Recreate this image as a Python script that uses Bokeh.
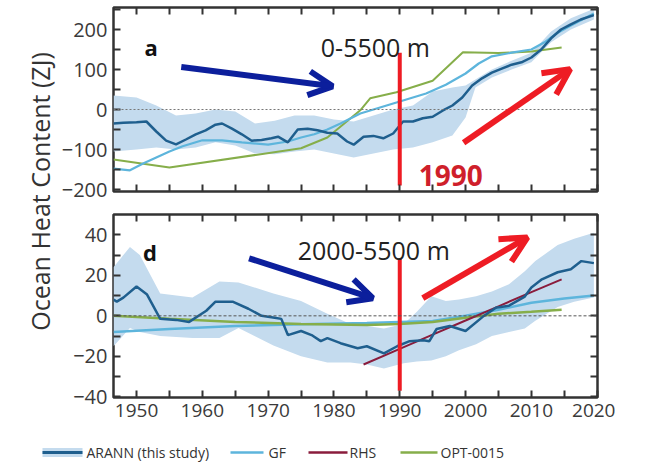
import math
from bokeh.plotting import figure
from bokeh.layouts import column, row
from bokeh.models import (Range1d, LinearAxis, FixedTicker, Arrow, OpenHead, Span, Label,
                          CustomJSTickFormatter)
from bokeh.embed import file_html
from bokeh.resources import INLINE
from bokeh.core.properties import value

# ---------------- data: panel a (0-5500 m) ----------------
aran_a_years = [1946.5, 1948, 1950, 1951.5, 1953, 1954.5, 1956, 1957.5, 1959, 1960.5,
                1962, 1963, 1964.5, 1966, 1967.5, 1969, 1970.5, 1971.5, 1973, 1974.5,
                1976, 1977.5, 1979, 1980.5, 1982, 1983, 1984.5, 1986, 1987.5, 1989,
                1990.5, 1992, 1993.5, 1995, 1996.5, 1998, 1999.5, 2001, 2002.5, 2004,
                2005.5, 2007, 2008.5, 2010, 2011.5, 2013, 2014.5, 2016, 2017.5, 2019.5]
aran_a_vals = [-35, -33, -32, -30, -55, -78, -87, -75, -62, -52,
               -38, -35, -48, -62, -78, -76, -72, -68, -82, -50,
               -48, -52, -58, -60, -80, -88, -68, -66, -72, -60,
               -30, -30, -22, -18, -3, 10, 30, 60, 78, 92,
               102, 112, 118, 130, 150, 178, 200, 213, 225, 236]

band_a_years = [1946.5, 1950, 1953, 1956, 1959, 1962, 1965, 1968, 1971, 1974, 1977,
                1980, 1983, 1986, 1989, 1992, 1995, 1998, 2000, 2001.5, 2004, 2007,
                2010, 2013, 2016, 2019.5]
band_a_lower = [-105, -100, -95, -100, -95, -82, -90, -110, -112, -105, -100,
                -110, -120, -110, -100, -95, -82, -65, -20, 55, 80, 100,
                118, 168, 200, 225]
band_a_upper = [35, 30, 10, -15, -10, 0, -5, -35, -28, -15, -15,
                -25, -30, -15, 0, 10, 45, 55, 60, 75, 100, 122,
                142, 195, 228, 252]

gf_a_years = [1946.5, 1949, 1951, 1953, 1955, 1957, 1960, 1963, 1966, 1970, 1973, 1975,
              1977, 1979, 1981, 1984, 1987, 1990, 1994, 1997, 2000, 2002, 2004, 2007,
              2010, 2012, 2014, 2016, 2019.5]
gf_a_vals = [-148, -152, -135, -120, -105, -92, -77, -77, -82, -88, -80, -70,
             -62, -50, -35, -10, 5, 20, 40, 62, 90, 115, 133, 142,
             150, 168, 192, 210, 240]

opt_a_years = [1946.5, 1955, 1975, 1979, 1984, 1985.5, 1989.5, 1995, 1999.6, 2005, 2010, 2014.6]
opt_a_vals = [-125, -145, -97, -70, -2, 28, 43, 72, 143, 141, 145, 155]

# ---------------- data: panel d (2000-5500 m) ----------------
aran_d_years = [1946.5, 1947, 1948, 1950, 1951.6, 1953.6, 1956, 1958, 1960.6, 1962,
                1964.6, 1967, 1969, 1971, 1972, 1973, 1975, 1976.6, 1978, 1979,
                1981, 1983.6, 1985, 1987.6, 1989.6, 1991.5, 1993.6, 1994.5, 1995.6, 1997.6,
                2000, 2002.6, 2004.6, 2006.6, 2009, 2010, 2011.6, 2014, 2016, 2017.6, 2019.5]
aran_d_vals = [8, 7, 9, 14.5, 10.5, -1.5, -2, -3, 2.5, 7,
               7, 3.5, 0, -1, -1.5, -9.5, -7.5, -9.5, -12.5, -11,
               -13.5, -16, -15, -18.5, -15, -12.5, -12, -12.5, -6.5, -5,
               -7.5, -0.5, 4, 5, 9.5, 14, 18, 21.5, 23, 27, 26]

band_d_years = [1946.5, 1949, 1950.5, 1953.6, 1958.5, 1962.6, 1965.5, 1970.8, 1975, 1979,
                1982.5, 1985, 1987.6, 1990.6, 1992.6, 1994.8, 1997, 1999, 2001.6, 2004,
                2006.6, 2009, 2010.6, 2014, 2016.5, 2019.5]
band_d_upper = [24, 34, 30, 11, 9, 17, 16.5, 11, 7.3, 1,
                -4, -5, -6.3, -4, 2, 9.7, 7.3, 8, 9.7, 12,
                15.6, 22, 27, 35, 38, 41]
band_d_lower = [-15, -6, -8, -10, -11, -11, -6, -14.6, -20, -23,
                -23, -24, -26, -23.4, -22.5, -22, -20, -17, -14, -10,
                -8, -6.3, -2.4, 4.4, 7, 9]

gf_d_years = [1946.5, 1955, 1965, 1975, 1985, 1995, 2000, 2005, 2010, 2015, 2019.5]
gf_d_vals = [-8, -6.5, -5, -4.2, -3.5, -2.5, 0, 3, 6.5, 8.5, 10]

opt_d_years = [1946.5, 1955, 1965, 1975, 1985, 1990, 1995, 2000, 2005, 2010, 2014.6]
opt_d_vals = [0, -1.5, -3, -4, -4.5, -4, -3, -1, 1, 2, 3]

rhs_d_years = [1984.5, 1990, 1995, 2000, 2005, 2010, 2014.6]
rhs_d_vals = [-24, -16.3, -9.3, -2.3, 4.7, 11.7, 18]

x_major = [1950, 1960, 1970, 1980, 1990, 2000, 2010, 2020]
x_minor = [1955, 1965, 1975, 1985, 1995, 2005, 2015]
ya_major = [-200, -100, 0, 100, 200]
ya_minor = [-150, -50, 50, 150, 250]
yd_major = [-40, -20, 0, 20, 40]
yd_minor = [-30, -10, 10, 30]

legend_labels = ["ARANN (this study)", "GF", "RHS", "OPT-0015"]
y_label = "Ocean Heat Content (ZJ)"

# ---------------- styles ----------------
C_ARAN = "#1f5f8e"
C_BAND = "#c4dbee"
C_GF = "#5db5dc"
C_RHS = "#8a1c3c"
C_OPT = "#86ae4a"
C_RED = "#ee1c24"
C_RED_TXT = "#cf1f2b"
C_BLUE = "#0c1f9c"
C_FRAME = "#333333"
FONT = "Open Sans"

LABEL_W = 58          # width of the y-label strip
PANEL_W = 615 - LABEL_W
PANEL_BL = 112 - LABEL_W


def style_axis(ax, ticker, labels, size="20px"):
    ax.ticker = ticker
    ax.major_tick_in = 7
    ax.major_tick_out = 0
    ax.minor_tick_in = 7
    ax.minor_tick_out = 0
    ax.major_tick_line_color = C_FRAME
    ax.minor_tick_line_color = C_FRAME
    ax.major_tick_line_width = 2
    ax.minor_tick_line_width = 2
    ax.axis_line_color = None
    ax.major_label_text_font = FONT
    ax.major_label_text_color = "#3a3a3a"
    if labels:
        ax.major_label_text_font_size = size
        ax.major_label_standoff = 6
    else:
        ax.formatter = CustomJSTickFormatter(code="return '';")
        ax.major_label_text_font_size = "1px"
        ax.major_label_standoff = 0


def make_panel(height, yr, ymaj, ymin, bt, bb, xlabels):
    p = figure(width=PANEL_W, height=height, x_range=Range1d(1946.5, 2020.05), y_range=yr,
               output_backend="svg", toolbar_location=None,
               min_border_left=PANEL_BL, min_border_right=18, min_border_top=bt,
               min_border_bottom=bb)
    p.xgrid.visible = False
    p.ygrid.visible = False
    p.outline_line_color = C_FRAME
    p.outline_line_width = 2.5
    p.background_fill_color = "white"
    p.border_fill_color = "white"
    xt = FixedTicker(ticks=x_major, minor_ticks=x_minor)
    yt = FixedTicker(ticks=ymaj, minor_ticks=ymin)
    style_axis(p.xaxis[0], xt, xlabels, "19px")
    style_axis(p.yaxis[0], yt, True, "20px")
    top = LinearAxis()
    style_axis(top, FixedTicker(ticks=x_major, minor_ticks=x_minor), False)
    p.add_layout(top, "above")
    right = LinearAxis()
    style_axis(right, FixedTicker(ticks=ymaj, minor_ticks=ymin), False)
    p.add_layout(right, "right")
    return p


# ---------------- panel a ----------------
pa = make_panel(201, Range1d(-205, 255), ya_major, ya_minor, 7, 10, False)
pa.varea(x=band_a_years, y1=band_a_lower, y2=band_a_upper, fill_color=C_BAND)
pa.add_layout(Span(location=0, dimension="width", line_color="#777777",
                   line_width=1, line_dash="2 2"))
pa.line(opt_a_years, opt_a_vals, line_color=C_OPT, line_width=2)
pa.line(gf_a_years, gf_a_vals, line_color=C_GF, line_width=2.2)
pa.line(aran_a_years, aran_a_vals, line_color=C_ARAN, line_width=2.5)
pa.segment(x0=[1990], y0=[-190], x1=[1990], y1=[142], line_color=C_RED, line_width=4)
pa.add_layout(Arrow(end=OpenHead(size=24, line_width=6, line_color=C_BLUE),
                    x_start=1956.8, y_start=106, x_end=1979.8, y_end=58,
                    line_color=C_BLUE, line_width=6))
pa.add_layout(Arrow(end=OpenHead(size=26, line_width=6, line_color=C_RED),
                    x_start=1999.7, y_start=-83, x_end=2015.9, y_end=101,
                    line_color=C_RED, line_width=6))
pa.add_layout(Label(x=1951.2, y=157, text="a", text_font=FONT, text_font_style="bold",
                    text_font_size="22px", text_color="#111111", text_baseline="alphabetic"))
pa.add_layout(Label(x=1978.0, y=157, text="0-5500 m", text_font=FONT,
                    text_font_size="25px", text_color="#222222", text_baseline="alphabetic"))
pa.add_layout(Label(x=1992.9, y=-165, text="1990", text_font=FONT, text_font_style="bold",
                    text_font_size="28px", text_color=C_RED_TXT, text_baseline="alphabetic"))

# ---------------- panel d ----------------
pd_ = make_panel(237, Range1d(-40.3, 50), yd_major, yd_minor, 13, 41, True)
pd_.varea(x=band_d_years, y1=band_d_lower, y2=band_d_upper, fill_color=C_BAND)
pd_.add_layout(Span(location=0, dimension="width", line_color="#555555",
                    line_width=1, line_dash="3 2"))
pd_.line(gf_d_years, gf_d_vals, line_color=C_GF, line_width=2.5)
pd_.line(opt_d_years, opt_d_vals, line_color=C_OPT, line_width=2.5)
pd_.line(rhs_d_years, rhs_d_vals, line_color=C_RHS, line_width=2)
pd_.line(aran_d_years, aran_d_vals, line_color=C_ARAN, line_width=2.5)
pd_.segment(x0=[1990], y0=[-37], x1=[1990], y1=[28], line_color=C_RED, line_width=4)
pd_.add_layout(Arrow(end=OpenHead(size=24, line_width=6, line_color=C_BLUE),
                     x_start=1967.1, y_start=28.4, x_end=1985.9, y_end=8.7,
                     line_color=C_BLUE, line_width=6))
pd_.add_layout(Arrow(end=OpenHead(size=26, line_width=6, line_color=C_RED),
                     x_start=1993.5, y_start=8.7, x_end=2009.4, y_end=38.7,
                     line_color=C_RED, line_width=6))
pd_.add_layout(Label(x=1951.0, y=31.3, text="d", text_font=FONT, text_font_style="bold",
                     text_font_size="22px", text_color="#111111", text_baseline="alphabetic"))
pd_.add_layout(Label(x=1974.5, y=32.3, text="2000-5500 m", text_font=FONT,
                     text_font_size="25px", text_color="#222222", text_baseline="alphabetic"))

# ---------------- y label ----------------
pl = figure(width=LABEL_W, height=438, x_range=Range1d(0, LABEL_W), y_range=Range1d(0, 438),
            x_axis_type=None, y_axis_type=None, output_backend="svg",
            toolbar_location=None, min_border=0)
pl.outline_line_color = None
pl.xgrid.visible = False
pl.ygrid.visible = False
pl.text(x=[39], y=[247], text=[y_label], angle=math.pi / 2,
        text_font=value(FONT), text_font_size=value("25px"), text_color="#333333",
        text_align="center", text_baseline="middle")

# ---------------- legend ----------------
pg = figure(width=615, height=28, x_range=Range1d(0, 615), y_range=Range1d(0, 28),
            x_axis_type=None, y_axis_type=None, output_backend="svg",
            toolbar_location=None, min_border=0)
pg.outline_line_color = None
pg.xgrid.visible = False
pg.ygrid.visible = False
pg.quad(left=[42], right=[82], bottom=[9.5], top=[18.5], fill_color=C_BAND, line_color=None)
pg.segment(x0=[42], y0=[14], x1=[82], y1=[14], line_color=C_ARAN, line_width=3)
pg.segment(x0=[230], y0=[14], x1=[263], y1=[14], line_color=C_GF, line_width=2.5)
pg.segment(x0=[308], y0=[14], x1=[347], y1=[14], line_color=C_RHS, line_width=2.5)
pg.segment(x0=[400], y0=[14], x1=[437], y1=[14], line_color=C_OPT, line_width=2.5)
pg.text(x=[86, 268, 349, 440], y=[14, 14, 14, 14], text=legend_labels,
        text_font=value(FONT), text_font_size=value("14px"), text_color="#333333",
        text_align="left", text_baseline="middle")

layout = column(row(pl, column(pa, pd_)), pg)
open("out.html", "w").write(file_html(layout, INLINE))
